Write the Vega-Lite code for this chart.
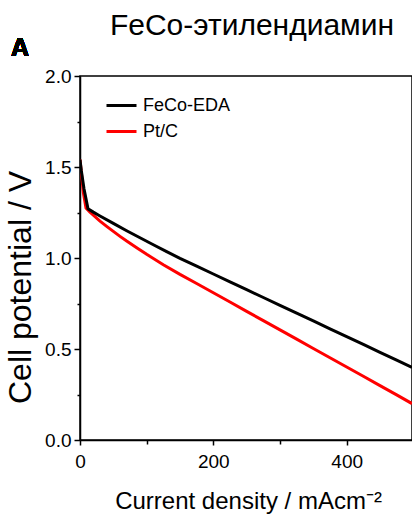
{
  "$schema": "https://vega.github.io/schema/vega-lite/v6.json",
  "width": 332,
  "height": 364,
  "autosize": {"type": "none"},
  "padding": {"left": 80, "top": 76, "right": 0, "bottom": 86},
  "background": "white",
  "title": {
    "text": "FeCo-этилендиамин",
    "font": "Liberation Sans",
    "fontSize": 30,
    "fontWeight": "normal",
    "color": "black",
    "anchor": "middle",
    "frame": "group",
    "dx": 6,
    "dy": 5,
    "offset": 0
  },
  "config": {
    "view": {"stroke": "black", "strokeWidth": 1.5},
    "axis": {
      "domainColor": "black",
      "domainWidth": 1.5,
      "tickColor": "black",
      "tickWidth": 1.5,
      "labelColor": "black",
      "labelFont": "Liberation Sans",
      "labelFontSize": 19,
      "titleColor": "black",
      "titleFont": "Liberation Sans",
      "titleFontWeight": "normal",
      "grid": false,
      "labelOverlap": false,
      "labelFlush": false,
      "labelBound": false
    }
  },
  "data": {
    "values": [
      {"series": "Pt/C", "j": 0, "v": 1.54},
      {"series": "Pt/C", "j": 2, "v": 1.47},
      {"series": "Pt/C", "j": 5, "v": 1.36},
      {"series": "Pt/C", "j": 9, "v": 1.275},
      {"series": "Pt/C", "j": 15, "v": 1.252},
      {"series": "Pt/C", "j": 20, "v": 1.235},
      {"series": "Pt/C", "j": 30, "v": 1.203},
      {"series": "Pt/C", "j": 40, "v": 1.174},
      {"series": "Pt/C", "j": 50, "v": 1.146},
      {"series": "Pt/C", "j": 60, "v": 1.119},
      {"series": "Pt/C", "j": 70, "v": 1.093},
      {"series": "Pt/C", "j": 85, "v": 1.056},
      {"series": "Pt/C", "j": 100, "v": 1.02},
      {"series": "Pt/C", "j": 125, "v": 0.963},
      {"series": "Pt/C", "j": 150, "v": 0.91},
      {"series": "Pt/C", "j": 175, "v": 0.86},
      {"series": "Pt/C", "j": 200, "v": 0.809},
      {"series": "Pt/C", "j": 225, "v": 0.758},
      {"series": "Pt/C", "j": 250, "v": 0.707},
      {"series": "Pt/C", "j": 275, "v": 0.656},
      {"series": "Pt/C", "j": 300, "v": 0.605},
      {"series": "Pt/C", "j": 325, "v": 0.554},
      {"series": "Pt/C", "j": 350, "v": 0.503},
      {"series": "Pt/C", "j": 375, "v": 0.452},
      {"series": "Pt/C", "j": 400, "v": 0.401},
      {"series": "Pt/C", "j": 425, "v": 0.35},
      {"series": "Pt/C", "j": 450, "v": 0.299},
      {"series": "Pt/C", "j": 475, "v": 0.248},
      {"series": "Pt/C", "j": 498, "v": 0.2},
      {"series": "FeCo-EDA", "j": 0, "v": 1.54},
      {"series": "FeCo-EDA", "j": 2, "v": 1.48},
      {"series": "FeCo-EDA", "j": 6, "v": 1.38},
      {"series": "FeCo-EDA", "j": 12, "v": 1.27},
      {"series": "FeCo-EDA", "j": 20, "v": 1.252},
      {"series": "FeCo-EDA", "j": 30, "v": 1.231},
      {"series": "FeCo-EDA", "j": 50, "v": 1.19},
      {"series": "FeCo-EDA", "j": 70, "v": 1.15},
      {"series": "FeCo-EDA", "j": 90, "v": 1.111},
      {"series": "FeCo-EDA", "j": 110, "v": 1.073},
      {"series": "FeCo-EDA", "j": 130, "v": 1.035},
      {"series": "FeCo-EDA", "j": 150, "v": 0.998},
      {"series": "FeCo-EDA", "j": 175, "v": 0.955},
      {"series": "FeCo-EDA", "j": 200, "v": 0.912},
      {"series": "FeCo-EDA", "j": 225, "v": 0.869},
      {"series": "FeCo-EDA", "j": 250, "v": 0.826},
      {"series": "FeCo-EDA", "j": 275, "v": 0.783},
      {"series": "FeCo-EDA", "j": 300, "v": 0.74},
      {"series": "FeCo-EDA", "j": 325, "v": 0.697},
      {"series": "FeCo-EDA", "j": 350, "v": 0.654},
      {"series": "FeCo-EDA", "j": 375, "v": 0.611},
      {"series": "FeCo-EDA", "j": 400, "v": 0.568},
      {"series": "FeCo-EDA", "j": 425, "v": 0.525},
      {"series": "FeCo-EDA", "j": 450, "v": 0.482},
      {"series": "FeCo-EDA", "j": 475, "v": 0.439},
      {"series": "FeCo-EDA", "j": 498, "v": 0.399}
    ]
  },
  "layer": [
    {
      "mark": {"type": "line", "strokeWidth": 3, "clip": true},
      "encoding": {
        "x": {
          "field": "j",
          "type": "quantitative",
          "scale": {"domain": [0, 498], "nice": false, "zero": false},
          "axis": {
            "values": [0, 100, 200, 300, 400],
            "labelExpr": "datum.value % 200 == 0 ? format(datum.value, 'd') : ''",
            "tickSize": {"condition": {"test": "datum.value % 200 != 0", "value": 4}, "value": 5},
            "labelPadding": 7,
            "title": "Current density / mAcm⁻²",
            "titleFontSize": 24,
            "titleBaseline": "alphabetic",
            "titleY": 68,
            "titleX": 168
          }
        },
        "y": {
          "field": "v",
          "type": "quantitative",
          "scale": {"domain": [0, 2], "nice": false},
          "axis": {
            "values": [0, 0.25, 0.5, 0.75, 1, 1.25, 1.5, 1.75, 2],
            "labelExpr": "(datum.value * 2) % 1 == 0 ? format(datum.value, '.1f') : ''",
            "tickSize": {"condition": {"test": "(datum.value * 2) % 1 != 0", "value": 3}, "value": 6},
            "labelPadding": 3,
            "title": "Cell potential / V",
            "titleFontSize": 32,
            "titleAngle": -90,
            "titleAlign": "center",
            "titleBaseline": "middle",
            "titleX": -60,
            "titleY": 211
          }
        },
        "color": {
          "field": "series",
          "type": "nominal",
          "scale": {"domain": ["FeCo-EDA", "Pt/C"], "range": ["#000000", "#ff0000"]},
          "legend": {
            "title": null,
            "orient": "none",
            "legendX": 25,
            "legendY": 13,
            "padding": 0,
            "symbolType": "stroke",
            "symbolSize": 900,
            "symbolStrokeWidth": 3,
            "symbolOffset": 0,
            "labelOffset": 5,
            "rowPadding": 0,
            "labelFont": "Liberation Sans",
            "labelFontSize": 18,
            "labelColor": "black"
          }
        }
      }
    },
    {
      "mark": {
        "type": "text",
        "text": "A",
        "font": "Liberation Sans",
        "fontWeight": "bold",
        "fontSize": 25,
        "color": "black",
        "align": "center",
        "baseline": "middle"
      },
      "encoding": {
        "x": {"datum": -90, "type": "quantitative"},
        "y": {"datum": 2.154, "type": "quantitative"}
      }
    }
  ]
}
